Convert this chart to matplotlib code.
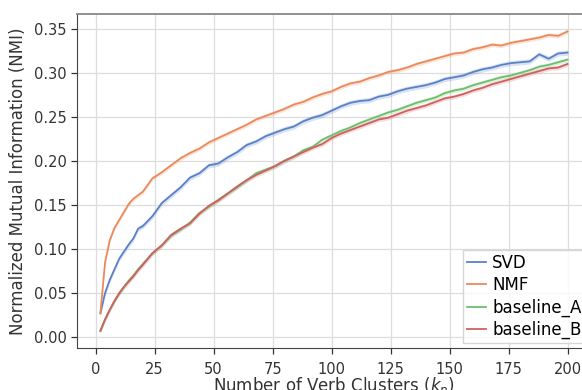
import matplotlib
matplotlib.use('Agg')
import matplotlib.pyplot as plt
import numpy as np

# number of verb clusters
k = [2, 4, 6, 8, 10, 12, 14, 16, 18, 20,
     24, 28, 32, 36, 40, 44, 48, 52, 56, 60,
     64, 68, 72, 76, 80, 84, 88, 92, 96, 100,
     104, 108, 112, 116, 120, 124, 128, 132, 136, 140,
     144, 148, 152, 156, 160, 164, 168, 172, 176, 180,
     184, 188, 192, 196, 200]

svd = [.027, .050, .065, .077, .089, .097, .105, .112, .123, .126,
       .137, .152, .161, .170, .181, .186, .195, .197, .204, .210,
       .218, .222, .228, .232, .236, .239, .245, .249, .252, .257,
       .262, .266, .268, .269, .273, .275, .279, .282, .284, .286,
       .289, .293, .295, .297, .301, .304, .306, .309, .311, .312,
       .313, .321, .316, .322, .323]

nmf = [.027, .085, .110, .124, .133, .142, .151, .157, .161, .165,
       .180, .187, .195, .203, .209, .214, .221, .226, .231, .236,
       .241, .247, .251, .255, .259, .264, .267, .272, .276, .279,
       .284, .288, .290, .294, .297, .301, .303, .306, .310, .313,
       .316, .319, .322, .323, .327, .329, .332, .331, .334, .336,
       .338, .340, .343, .342, .347]

base_a = [.007, .020, .031, .041, .049, .057, .064, .070, .077, .083,
          .095, .104, .115, .122, .130, .141, .148, .156, .163, .170,
          .178, .186, .190, .194, .200, .205, .212, .216, .224, .229,
          .234, .238, .243, .247, .251, .255, .258, .262, .266, .269,
          .272, .277, .280, .282, .286, .289, .292, .295, .297, .300,
          .303, .307, .309, .312, .315]

base_b = [.007, .020, .031, .041, .050, .057, .063, .069, .076, .082,
          .095, .104, .116, .123, .129, .140, .149, .155, .163, .171,
          .178, .184, .189, .194, .200, .205, .210, .215, .219, .226,
          .231, .235, .239, .243, .247, .249, .253, .257, .260, .263,
          .267, .271, .273, .276, .280, .283, .287, .290, .293, .296,
          .299, .302, .305, .306, .310]

labels = ['SVD', 'NMF', 'baseline_A', 'baseline_B']
colors = ['#5a80c8', '#ea8a5c', '#6cbf6c', '#d06060']
spread = [0.003, 0.0025, 0.0025, 0.0025]

fig = plt.figure(figsize=(5.82, 3.9), dpi=100)
ax = fig.add_axes([0.1323, 0.107, 0.883, 0.857])

x = np.array(k)
for vals, lab, c, s in zip([svd, nmf, base_a, base_b], labels, colors, spread):
    y = np.array(vals)
    ax.fill_between(x, y - s, y + s, color=c, alpha=0.22, lw=0)
    ax.plot(x, y, color=c, lw=1.3, label=lab)

ax.set_xticks([0, 25, 50, 75, 100, 125, 150, 175, 200])
ax.set_yticks([0.0, 0.05, 0.10, 0.15, 0.20, 0.25, 0.30, 0.35])
ax.set_yticklabels(['0.00', '0.05', '0.10', '0.15', '0.20', '0.25', '0.30', '0.35'])
ax.grid(True, color='#dddddd', lw=0.9)
ax.set_axisbelow(True)
ax.tick_params(labelsize=10.5, colors='#333333', length=4, width=0.9)
ax.tick_params(axis='x', pad=6)
for side in ['left', 'bottom']:
    ax.spines[side].set_color('#444444')
ax.spines['top'].set_color('#888888')
ax.spines['top'].set_linewidth(1.3)
ax.spines['right'].set_visible(False)

ax.set_xlabel('Number of Verb Clusters ($k_p$)', fontsize=12, color='#333333', labelpad=-1)
ax.set_ylabel('Normalized Mutual Information (NMI)', fontsize=12, color='#333333', labelpad=5)
ax.legend(loc='lower right', fontsize=12, handlelength=1.1, handletextpad=0.4,
          borderpad=0.25, borderaxespad=0.3, labelspacing=0.25, edgecolor='#cccccc',
          fancybox=False)

plt.savefig('out.png', dpi=100)
